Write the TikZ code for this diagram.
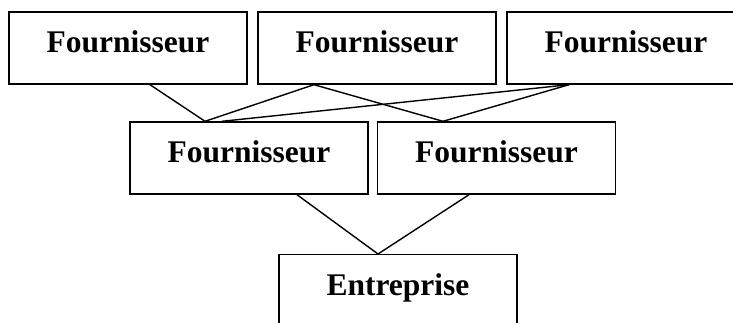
\documentclass[tikz,border=0pt]{standalone}
\usepackage{fontspec}
\setmainfont{Liberation Serif}
\usetikzlibrary{positioning}

\tikzset{
  box/.style={draw,line width=1.4pt,minimum width=238pt,inner xsep=0pt,inner ysep=0pt,
    text height=41pt,text depth=31pt,font=\fontsize{31.5}{36}\selectfont\bfseries},
  tallbox/.style={box,text depth=50pt}
}

\begin{document}
\begin{tikzpicture}[x=1pt,y=-1pt,node distance=249pt,on grid,line width=1.4pt]
    \useasboundingbox (0,0) rectangle (733,323);
    \clip (0,0) rectangle (733,323);
    \node[box] (f_1) at (128,48) {Fournisseur};
    \node[box] (f_2) [right=of f_1] {Fournisseur};
    \node[box] (f_3) [right=of f_2] {Fournisseur};
    \node[box] (f_4) [below right=110pt and 121pt of f_1] {Fournisseur};
    \node[box] (f_5) [right=247.5pt of f_4] {Fournisseur};
    \node[tallbox,anchor=north] (ent) at (398,254) {Entreprise};
    \path
    ([xshift=22pt]f_1.south) edge ([xshift=-44pt]f_4.north)
    ([xshift=-63pt]f_2.south) edge ([xshift=-44pt]f_4.north)
    ([xshift=-63pt]f_2.south) edge ([xshift=-53.5pt]f_5.north)
    ([xshift=-57pt]f_3.south) edge ([xshift=-27pt]f_4.north)
    ([xshift=-57pt]f_3.south) edge ([xshift=-53.5pt]f_5.north)
    ([xshift=48pt]f_4.south) edge ([xshift=-20pt]ent.north)
    ([xshift=-27.5pt]f_5.south) edge ([xshift=-20pt]ent.north)
    ; %end path
\end{tikzpicture}
\end{document}
